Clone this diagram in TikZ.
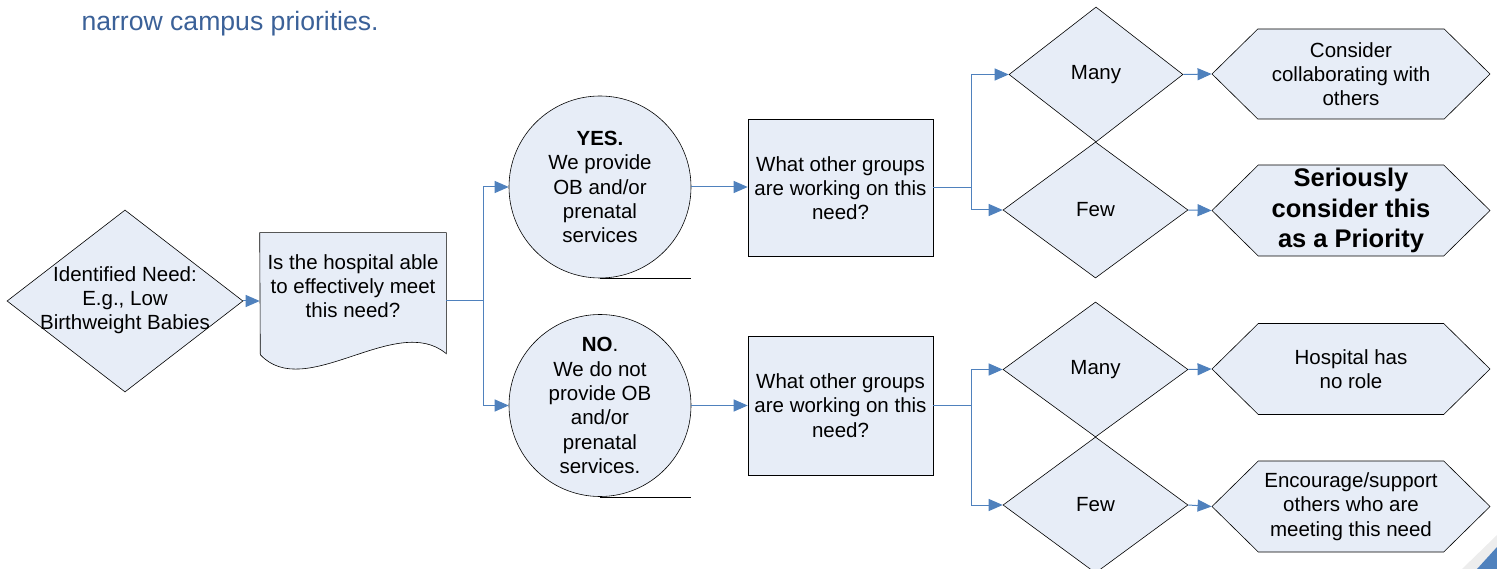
\documentclass[tikz,border=0pt]{standalone}
\usepackage{fontspec}
\setmainfont{Liberation Sans}
\usetikzlibrary{shapes.geometric,shapes.symbols,arrows.meta,backgrounds}
\definecolor{boxfill}{HTML}{E7EDF7}
\definecolor{flowblue}{HTML}{4F81BD}
\definecolor{titleblue}{HTML}{3B6198}

\begin{document}
\begin{tikzpicture}[x=1pt,y=-1pt,
    box/.style={draw=black, line width=.6pt, fill=boxfill, inner sep=0pt, align=center,
      font=\fontsize{20.5}{24.3}\selectfont},
    decision/.style={box, diamond},
    process/.style={box, rectangle, minimum width=185, minimum height=137},
    answer/.style={box, circle, minimum size=182},
    outcome/.style={box, signal, signal to=east and west, signal pointer angle=89,
      minimum width=278, minimum height=91},
    flow/.style={draw=flowblue, line width=1pt, -{Triangle[length=14pt,width=12pt]}},
    link/.style={draw=flowblue, line width=1pt}]

        \useasboundingbox (0,0) rectangle (1497,569);

        \node[anchor=base west, text=titleblue, font=\fontsize{26.6}{32}\selectfont] (title) at (78,31) {narrow campus priorities.};

        \begin{scope}
          \node[decision, minimum width=236, minimum height=182] (need) at (125,301) {};
          \node[align=center, font=\fontsize{20.5}{24.3}\selectfont] (needtext) at (125,300) {Identified Need:\\E.g., Low\\Birthweight Babies};
          \node[box, draw=none, fill=none, minimum width=186, minimum height=106] (able) at (353,286) {Is the hospital able\\to effectively meet\\this need?};
          \node[answer] (yes) at (600,187) {\textbf{YES.}\\We provide\\OB and/or\\prenatal\\services};
          \node[answer] (no)  at (600,405.5) {\textbf{NO}.\\We do not\\provide OB\\and/or\\prenatal\\services.};
          \node[process] (what1) at (840.5,188) {What other groups\\are working on this\\need?};
          \node[process, minimum height=139] (what2) at (840.5,405.5) {What other groups\\are working on this\\need?};
          \node[decision, minimum width=174, minimum height=135] (many1) at (1096,74.5) {Many};
          \node[decision, minimum width=185, minimum height=136] (few1)  at (1095.5,210) {Few};
          \node[decision, minimum width=185, minimum height=135] (many2) at (1095.5,369.5) {Many};
          \node[decision, minimum width=185, minimum height=136] (few2)  at (1095.5,505) {Few};
          \node[outcome, minimum height=90] (collab) at (1351,74) {Consider\\collaborating with\\others};
          \node[outcome, font=\fontsize{25.5}{30.5}\selectfont\bfseries] (serious) at (1351,210.5) {Seriously\\consider this\\as a Priority};
          \node[outcome] (norole) at (1351,369) {Hospital has\\no role};
          \node[outcome] (support) at (1351,506.5) {Encourage/support\\others who are\\meeting this need};
        \end{scope}

        \begin{scope}[on background layer]
          \draw[line width=.6pt, fill=boxfill] (able.north west) -- (able.north east) -- ++(0,121)
            .. controls +(-50,-42) and +(45,48) .. ++(-186,1) -- cycle;
        \end{scope}

        \draw[line width=.6pt] (yes.south) -- (yes.south -| yes.east);
        \draw[line width=.6pt] (no.south) -- (no.south -| no.east);

        \coordinate (fork1) at (483,301);
        \coordinate (fork2) at (971,188);
        \coordinate (fork3) at (971,405.5);

        \draw[flow] (need.east) -- (need.east -| able.west);
        \draw[link] (able.east |- need.east) -- (fork1);
        \draw[flow] (fork1) |- (yes.west);
        \draw[flow] (fork1) |- (no.west);
        \draw[flow] (yes.east) -- (yes.east -| what1.west);
        \draw[flow] (no.east) -- (no.east -| what2.west);
        \draw[link] (what1.east) -- (fork2);
        \draw[link] (what2.east) -- (fork3);
        \draw[flow] (fork2) |- (many1.west);
        \draw[flow] (fork2) |- (few1.west);
        \draw[flow] (fork3) |- (many2.west);
        \draw[flow] (fork3) |- (few2.west);
        \draw[flow] (many1.east) -- (collab.west);
        \draw[flow] (few1.east) -- (serious.west);
        \draw[flow] (many2.east) -- (norole.west);
        \draw[flow] (few2.east) -- (support.west);

        \fill[black!7] (1462,569) -- (1497,535) -- (1497,547) -- (1477,569) -- cycle;
        \fill[flowblue] (1477,569) -- (1497,547) -- (1497,569) -- cycle;

\end{tikzpicture}
\end{document}
